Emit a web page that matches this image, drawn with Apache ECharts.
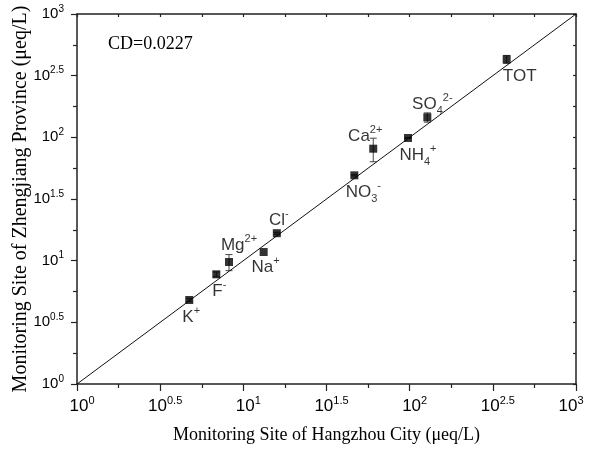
<!DOCTYPE html>
<html><head><meta charset="utf-8">
<script src="https://cdn.jsdelivr.net/npm/echarts@6/dist/echarts.min.js"></script>
<style>html,body{margin:0;padding:0;background:#fff}#c{width:592px;height:449px}</style>
</head><body><div id="c"></div>
<script>
// Ion species
const ions = ['K+', 'F-', 'Mg2+', 'Na+', 'Cl-', 'NO3-', 'Ca2+', 'NH4+', 'SO42-', 'TOT'];
const ionLabels = ['K{sp|+}', 'F{sp|-}', 'Mg{sp|2+}', 'Na{sp|+}', 'Cl{sp|-}', 'NO{sb|3}{sp|-}', 'Ca{sp|2+}', 'NH{sb|4}{sp|+}', 'SO{sb|4}{sp|2-}', 'TOT'];
// Concentrations (μeq/L)
const hangzhou = [4.73, 6.88, 8.20, 13.25, 15.9, 46.5, 60.4, 97.7, 127.7, 383];
const zhejiang = [4.80, 7.75, 9.75, 11.75, 16.7, 49.2, 80.9, 98.8, 145.3, 429.5];
const zhejiangErr = [0.12, 0.35, 1.45, 0.0, 0.3, 0.6, 17.5, 1.0, 12.5, 32];
// Axis range and tick labels (exponents of 10)
const axisRange = [1, 1000];
const tickExps = ['0', '0.5', '1', '1.5', '2', '2.5', '3'];
const cdText = 'CD=0.0227';

// label offsets (layout)
const labelOffsets = [[2, 17], [3, 17], [10, -17], [2, 15], [2, -13], [9, 17], [-8, -12], [10, 17], [5, -13], [13, 17]];

const lg = Math.log10;
const chart = echarts.init(document.getElementById('c'));
const sansFont = '"Liberation Sans", Arial, sans-serif';
const serifFont = '"Liberation Serif", "Times New Roman", serif';
const axisColor = '#222';
const textColor = '#000';

const tickRichX = {
  b: {fontSize: 17, fontFamily: sansFont, color: textColor, lineHeight: 22},
  s: {fontSize: 11, fontFamily: sansFont, color: textColor, verticalAlign: 'top'},
  p: {fontSize: 11, width: 10}
};
const tickRichY = {
  b: {fontSize: 15, fontFamily: sansFont, color: textColor, lineHeight: 20},
  s: {fontSize: 10, fontFamily: sansFont, color: textColor, verticalAlign: 'top'}
};
const tickFmtY = v => '{b|10}{s|' + tickExps[Math.round(v * 2)] + '}';
const tickFmtX = v => {
  const i = Math.round(v * 2);
  const core = '{b|10}{s|' + tickExps[i] + '}';
  return i === tickExps.length - 1 ? core + '{p| }' : '{p| }' + core;
};
const lmin = lg(axisRange[0]), lmax = lg(axisRange[1]);

const baseAxis = {
  type: 'value', min: lmin, max: lmax, interval: 0.5,
  axisLine: {show: true, onZero: false, lineStyle: {color: axisColor, width: 1.5}},
  splitLine: {show: false}
};

const scatterData = hangzhou.map((h, i) => ({
  value: [lg(h), lg(zhejiang[i])],
  name: ions[i],
  label: {
    show: true, position: 'inside', offset: labelOffsets[i],
    formatter: ionLabels[i],
    color: textColor, fontSize: 17, fontFamily: sansFont, lineHeight: 24,
    rich: {
      sp: {fontSize: 11, fontFamily: sansFont, color: textColor, verticalAlign: 'top'},
      sb: {fontSize: 11, fontFamily: sansFont, color: textColor, verticalAlign: 'bottom'}
    }
  }
}));

const errData = hangzhou.map((h, i) => [lg(h), lg(zhejiang[i] - zhejiangErr[i]), lg(zhejiang[i] + zhejiangErr[i])])
  .filter((d, i) => zhejiangErr[i] > 0);

chart.setOption({
  animation: false,
  backgroundColor: '#fff',
  title: {text: cdText, left: 103, top: 30, textStyle: {fontFamily: serifFont, fontSize: 18, fontWeight: 'normal', color: textColor}},
  grid: {left: 77, right: 16, top: 14, bottom: 65, containLabel: false, outerBoundsMode: 'none'},
  xAxis: [
    Object.assign({}, baseAxis, {
      position: 'bottom',
      name: 'Monitoring Site of Hangzhou City (\u03bceq/L)', nameLocation: 'middle', nameGap: 42, nameMoveOverlap: false,
      nameTextStyle: {fontFamily: serifFont, fontSize: 18, color: textColor},
      axisTick: {show: true, inside: false, length: 7, lineStyle: {color: axisColor, width: 1.2}},
      minorTick: {show: true, splitNumber: 2, length: 4, lineStyle: {color: axisColor, width: 1.2}},
      axisLabel: {show: true, margin: 11, formatter: tickFmtX, rich: tickRichX}
    }),
    Object.assign({}, baseAxis, {
      position: 'top',
      axisTick: {show: true, inside: true, length: 3, lineStyle: {color: axisColor, width: 1.2}},
      minorTick: {show: true, splitNumber: 2, length: 3, lineStyle: {color: axisColor, width: 1.2}},
      axisLabel: {show: false}
    })
  ],
  yAxis: [
    Object.assign({}, baseAxis, {
      position: 'left',
      name: 'Monitoring Site of Zhengjiang Province (\u03bceq/L)', nameLocation: 'middle', nameGap: 46, nameMoveOverlap: false,
      nameTextStyle: {fontFamily: serifFont, fontSize: 20, color: textColor},
      axisTick: {show: true, inside: false, length: 6, lineStyle: {color: axisColor, width: 1.2}},
      minorTick: {show: true, splitNumber: 2, length: 4, lineStyle: {color: axisColor, width: 1.2}},
      axisLabel: {show: true, margin: 13, formatter: tickFmtY, rich: tickRichY}
    }),
    Object.assign({}, baseAxis, {
      position: 'right',
      axisTick: {show: true, inside: true, length: 3, lineStyle: {color: axisColor, width: 1.2}},
      minorTick: {show: true, splitNumber: 2, length: 3, lineStyle: {color: axisColor, width: 1.2}},
      axisLabel: {show: false}
    })
  ],
  series: [
    {
      type: 'line', xAxisIndex: 0, yAxisIndex: 0, symbol: 'none', silent: true,
      data: [[lmin, lmin], [lmax, lmax]],
      lineStyle: {color: '#111', width: 1}
    },
    {
      type: 'custom', xAxisIndex: 0, yAxisIndex: 0, silent: true,
      data: errData,
      renderItem: function (params, api) {
        const p1 = api.coord([api.value(0), api.value(1)]);
        const p2 = api.coord([api.value(0), api.value(2)]);
        const w = 3.5;
        const st = {stroke: '#444', lineWidth: 1};
        return {type: 'group', children: [
          {type: 'line', shape: {x1: p1[0], y1: p1[1], x2: p2[0], y2: p2[1]}, style: st},
          {type: 'line', shape: {x1: p1[0] - w, y1: p1[1], x2: p1[0] + w, y2: p1[1]}, style: st},
          {type: 'line', shape: {x1: p2[0] - w, y1: p2[1], x2: p2[0] + w, y2: p2[1]}, style: st}
        ]};
      },
      z: 3
    },
    {
      type: 'scatter', xAxisIndex: 0, yAxisIndex: 0,
      symbol: 'rect', symbolSize: 8,
      itemStyle: {color: '#000'},
      data: scatterData,
      z: 4
    }
  ]
});
</script></body></html>
